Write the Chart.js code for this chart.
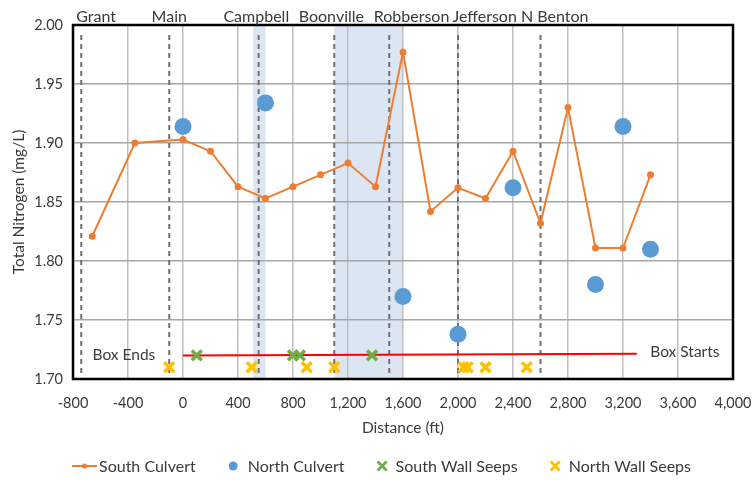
<!DOCTYPE html>
<html>
<head>
<meta charset="utf-8">
<script src="https://cdn.jsdelivr.net/npm/chart.js@4.4.0/dist/chart.umd.min.js"></script>
<style>
    html, body { margin: 0; padding: 0; background: #fff; }
</style>
</head>
<body>
<canvas id="nitrogenChart" width="755" height="481"></canvas>
<script>
// South culvert samples (distance ft / TN mg/L)
const southDist = [-660, -350, 0, 200, 400, 600, 800, 1000, 1200, 1400, 1600, 1800, 2000, 2200, 2400, 2600, 2800, 3000, 3200, 3400];
const southTN = [1.821, 1.900, 1.903, 1.893, 1.863, 1.853, 1.863, 1.873, 1.883, 1.863, 1.977, 1.842, 1.862, 1.853, 1.893, 1.832, 1.930, 1.811, 1.811, 1.873];
// North culvert samples
const northDist = [0, 600, 1600, 2000, 2400, 3000, 3200, 3400];
const northTN = [1.914, 1.934, 1.770, 1.738, 1.862, 1.780, 1.914, 1.810];
// Wall seeps
const southSeepDist = [100, 800, 850, 1375];
const southSeepTN = [1.72, 1.72, 1.72, 1.72];
const northSeepDist = [-100, 500, 900, 1100, 2040, 2070, 2200, 2500];
const northSeepTN = [1.71, 1.71, 1.71, 1.71, 1.71, 1.71, 1.71, 1.71];
// Cross streets
const streetNames = ['Grant', 'Main', 'Campbell', 'Boonville', 'Robberson', 'Jefferson', 'N Benton'];
const streetDist = [-740, -100, 550, 1100, 1500, 2000, 2600];
const streetLabelDist = [-632, -100, 533, 1079, 1662, 2194, 2704];
const streetRange = [1.705, 1.995];
// Box culvert extent
const boxLineDist = [0, 3300];
const boxLineTN = [1.720, 1.7215];
const boxNotes = ['Box Ends', 'Box Starts'];
const boxNoteDist = [-430, 3650];
const boxNoteTN = [1.72, 1.7225];
// Shaded sections [from, to]
const bandFrom = [510, 1100];
const bandTo = [600, 1600];
// Axes
const xMin = -800, xMax = 4000, xStep = 400;
const yMin = 1.70, yMax = 2.00, yStep = 0.05;

const FONT = 'Lato, "Open Sans", sans-serif';
const TXT = '#3a3a3a';

const pts = (xs, ys) => xs.map((v, i) => ({x: v, y: ys[i]}));

const streetSets = streetDist.map(d => ({
    label: '_street',
    data: [{x: d, y: streetRange[0]}, {x: d, y: streetRange[1]}],
    showLine: true,
    borderColor: '#707070',
    borderWidth: 2,
    borderDash: [5, 4],
    pointRadius: 0,
    order: 5
}));

const legendItems = [
    {text: 'South Culvert', kind: 'line', color: '#ED7D31'},
    {text: 'North Culvert', kind: 'dot', color: '#5B9BD5'},
    {text: 'South Wall Seeps', kind: 'x', color: '#70AD47'},
    {text: 'North Wall Seeps', kind: 'x', color: '#FFC000'}
];

// icon width and gap to text for each legend kind
const iconW = {line: 25, dot: 9, x: 9};
const iconGap = {line: 2, dot: 10, x: 9};
const itemGap = 33;

function drawIcon(ctx, kind, color, x0, cy) {
    ctx.strokeStyle = color;
    ctx.fillStyle = color;
    if (kind === 'line') {
        ctx.lineWidth = 2;
        ctx.beginPath(); ctx.moveTo(x0, cy); ctx.lineTo(x0 + 25, cy); ctx.stroke();
        ctx.beginPath(); ctx.arc(x0 + 12.5, cy, 2.5, 0, Math.PI * 2); ctx.fill();
    } else if (kind === 'dot') {
        ctx.beginPath(); ctx.arc(x0 + 4.5, cy, 4.5, 0, Math.PI * 2); ctx.fill();
    } else {
        ctx.lineWidth = 2.8;
        ctx.beginPath();
        ctx.moveTo(x0, cy - 4.5); ctx.lineTo(x0 + 9, cy + 4.5);
        ctx.moveTo(x0 + 9, cy - 4.5); ctx.lineTo(x0, cy + 4.5);
        ctx.stroke();
    }
}

const extras = {
    id: 'extras',
    beforeDraw(chart) {
        const {ctx, chartArea: a, scales: {x}} = chart;
        ctx.save();
        ctx.fillStyle = '#dce6f2';
        bandFrom.forEach((f, i) => {
            const x1 = x.getPixelForValue(f), x2 = x.getPixelForValue(bandTo[i]);
            ctx.fillRect(x1, a.top, x2 - x1, a.bottom - a.top);
        });
        ctx.restore();
    },
    afterDatasetsDraw(chart) {
        const {ctx, chartArea: a, scales: {x, y}} = chart;
        ctx.save();
        // frame
        ctx.strokeStyle = '#000';
        ctx.lineWidth = 2.5;
        ctx.strokeRect(a.left, a.top, a.right - a.left, a.bottom - a.top);
        // street names above the plot
        ctx.fillStyle = TXT;
        ctx.font = '16px ' + FONT;
        ctx.textAlign = 'center';
        ctx.textBaseline = 'middle';
        streetNames.forEach((n, i) => ctx.fillText(n, x.getPixelForValue(streetLabelDist[i]), a.top - 8));
        // box notes
        ctx.font = '15.5px ' + FONT;
        boxNotes.forEach((n, i) => ctx.fillText(n, x.getPixelForValue(boxNoteDist[i]), y.getPixelForValue(boxNoteTN[i])));
        ctx.restore();
    },
    afterDraw(chart) {
        const ctx = chart.ctx;
        const cy = 466;
        ctx.save();
        ctx.font = '16px ' + FONT;
        ctx.textBaseline = 'middle';
        ctx.textAlign = 'left';
        // centre the whole legend row
        let total = 0;
        legendItems.forEach((it, i) => {
            total += iconW[it.kind] + iconGap[it.kind] + ctx.measureText(it.text).width;
            if (i < legendItems.length - 1) total += itemGap;
        });
        let cx = chart.width / 2 + 4 - total / 2;
        legendItems.forEach(it => {
            drawIcon(ctx, it.kind, it.color, cx, cy);
            cx += iconW[it.kind] + iconGap[it.kind];
            ctx.fillStyle = TXT;
            ctx.fillText(it.text, cx, cy + 1);
            cx += ctx.measureText(it.text).width + itemGap;
        });
        ctx.restore();
    }
};

new Chart(document.getElementById('nitrogenChart'), {
    type: 'scatter',
    data: {
        datasets: [
            {
                label: 'North Culvert',
                data: pts(northDist, northTN),
                backgroundColor: '#5B9BD5',
                borderWidth: 0,
                pointRadius: 8.5,
                order: 1
            },
            {
                label: 'South Culvert',
                data: pts(southDist, southTN),
                showLine: true,
                borderColor: '#ED7D31',
                backgroundColor: '#ED7D31',
                borderWidth: 2,
                pointRadius: 2.5,
                order: 2
            },
            {
                label: 'South Wall Seeps',
                data: pts(southSeepDist, southSeepTN),
                pointStyle: 'crossRot',
                borderColor: '#70AD47',
                borderWidth: 3.5,
                pointRadius: 7,
                order: 3
            },
            {
                label: 'North Wall Seeps',
                data: pts(northSeepDist, northSeepTN),
                pointStyle: 'crossRot',
                borderColor: '#FFC000',
                borderWidth: 3.5,
                pointRadius: 7,
                order: 3
            },
            {
                label: '_box',
                data: pts(boxLineDist, boxLineTN),
                showLine: true,
                borderColor: '#FF0000',
                borderWidth: 2,
                pointRadius: 0,
                order: 4
            },
            ...streetSets
        ]
    },
    options: {
        responsive: false,
        animation: false,
        layout: {padding: {top: 25, right: 22, left: 0, bottom: 44}},
        plugins: {legend: {display: false}, tooltip: {enabled: false}},
        scales: {
            x: {
                type: 'linear',
                min: xMin, max: xMax,
                afterFit: s => { s.height = 58; s.paddingLeft = 0; s.paddingRight = 0; },
                ticks: {stepSize: xStep, padding: 16, color: TXT, font: {family: FONT, size: 14.5},
                    callback: v => v.toLocaleString('en-US')},
                grid: {color: '#bfbfbf', lineWidth: 1.5, drawTicks: false},
                border: {display: false},
                title: {display: true, text: 'Distance (ft)', color: TXT, font: {family: FONT, size: 15.5}, padding: {top: 4, bottom: 0}}
            },
            y: {
                min: yMin, max: yMax,
                afterFit: s => { s.width = 73; },
                ticks: {stepSize: yStep, padding: 10, color: TXT, font: {family: FONT, size: 14.5},
                    callback: v => v.toFixed(2)},
                grid: {color: '#a6a6a6', lineWidth: 1.5, drawTicks: false},
                border: {display: false},
                title: {display: true, text: 'Total Nitrogen (mg/L)', color: TXT, font: {family: FONT, size: 15.5}, padding: {top: 10, bottom: 0}}
            }
        }
    },
    plugins: [extras]
});
</script>
</body>
</html>
